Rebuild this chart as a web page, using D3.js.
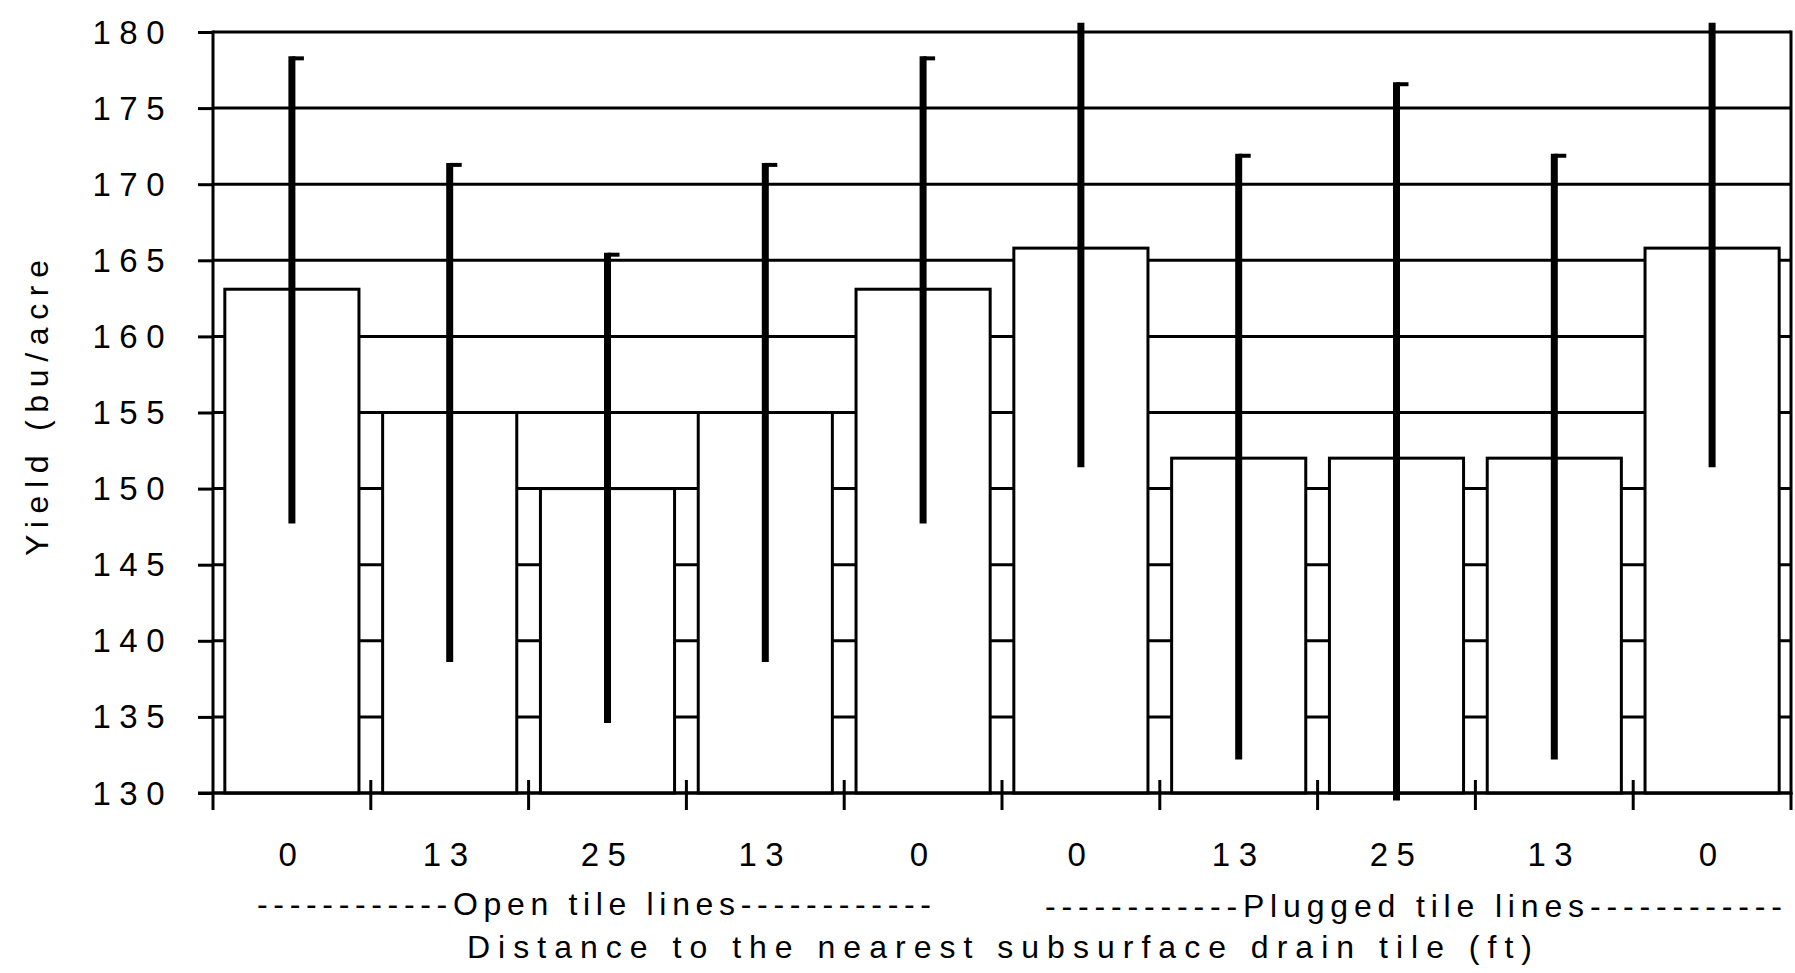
<!DOCTYPE html>
<html>
<head>
<meta charset="utf-8">
<script src="https://cdn.jsdelivr.net/npm/d3@7"></script>
<style>
  body { margin: 0; background: #fff; }
  text { font-family: "Liberation Sans", Arial, sans-serif; fill: #000; }
</style>
</head>
<body>
<svg width="1795" height="973"></svg>
<script>
// values
var distances = ["0", "13", "25", "13", "0", "0", "13", "25", "13", "0"];
var yieldMeans = [163.1, 155, 150, 155, 163.1, 165.8, 152, 152, 152, 165.8];
var errHigh = [178.4, 171.4, 165.5, 171.4, 178.4, 180.6, 172, 176.7, 172, 180.6];
var errLow = [147.7, 138.6, 134.6, 138.6, 147.7, 151.4, 132.2, 129.5, 132.2, 151.4];
var yTicks = [130, 135, 140, 145, 150, 155, 160, 165, 170, 175, 180];
var groupLabels = ["------------Open tile lines------------", "------------Plugged tile lines------------"];
var xTitle = "Distance to the nearest subsurface drain tile (ft)";
var yTitle = "Yield (bu/acre";

var svg = d3.select("svg"),
    plotLeft = 213, plotRight = 1791, plotTop = 32, plotBottom = 793,
    ink = "#000";

var x = d3.scaleBand()
    .domain(d3.range(distances.length))
    .range([plotLeft, plotRight])
    .paddingInner(0.15)
    .paddingOuter(0.075);

var y = d3.scaleLinear()
    .domain([130, 180])
    .range([plotBottom, plotTop]);

// horizontal grid lines (the bars cover them)
svg.append("g")
    .attr("class", "grid")
    .selectAll("line")
    .data(yTicks)
    .enter().append("line")
    .attr("x1", plotLeft)
    .attr("x2", plotRight)
    .attr("y1", function (d) { return y(d); })
    .attr("y2", function (d) { return y(d); })
    .attr("stroke", ink)
    .attr("stroke-width", 3);

// left and right frame
svg.append("g")
    .selectAll("line")
    .data([plotLeft, plotRight])
    .enter().append("line")
    .attr("x1", function (d) { return d; })
    .attr("x2", function (d) { return d; })
    .attr("y1", y(180) - 1.5)
    .attr("y2", y(130) + 1.5)
    .attr("stroke", ink)
    .attr("stroke-width", 3);

// y axis ticks + labels
var yAxis = svg.append("g")
    .attr("transform", "translate(" + plotLeft + ",0)")
    .call(d3.axisLeft(y).tickValues(yTicks).tickSize(15).tickFormat(d3.format("d")));
yAxis.select(".domain").remove();
yAxis.attr("font-family", null).attr("font-size", 33);
yAxis.selectAll("line").attr("stroke", ink).attr("stroke-width", 3);
yAxis.selectAll("text")
    .attr("x", -40)
    .attr("dy", 11)
    .attr("letter-spacing", 8.5)
    .style("fill", ink);

// bars
svg.append("g")
    .attr("class", "bars")
    .selectAll("rect")
    .data(yieldMeans)
    .enter().append("rect")
    .attr("x", function (d, i) { return x(i); })
    .attr("width", x.bandwidth())
    .attr("y", function (d) { return y(d); })
    .attr("height", function (d) { return plotBottom - y(d); })
    .attr("fill", "#fff")
    .attr("stroke", ink)
    .attr("stroke-width", 3);

// x axis line
svg.append("line")
    .attr("x1", plotLeft - 15)
    .attr("x2", plotRight + 1.5)
    .attr("y1", plotBottom)
    .attr("y2", plotBottom)
    .attr("stroke", ink)
    .attr("stroke-width", 3);

// x ticks sit on the category boundaries
svg.append("g")
    .selectAll("line")
    .data(d3.range(distances.length + 1))
    .enter().append("line")
    .attr("x1", function (i) { return plotLeft + i * x.step(); })
    .attr("x2", function (i) { return plotLeft + i * x.step(); })
    .attr("y1", function (i) { return (i === 0 || i === distances.length) ? plotBottom : plotBottom - 13; })
    .attr("y2", plotBottom + 17)
    .attr("stroke", ink)
    .attr("stroke-width", 3);

// error bars
var errs = svg.append("g").attr("class", "errors");
errs.selectAll("line.stem")
    .data(yieldMeans)
    .enter().append("line")
    .attr("class", "stem")
    .attr("x1", function (d, i) { return x(i) + x.bandwidth() / 2; })
    .attr("x2", function (d, i) { return x(i) + x.bandwidth() / 2; })
    .attr("y1", function (d, i) { return y(errHigh[i]); })
    .attr("y2", function (d, i) { return y(errLow[i]); })
    .attr("stroke", ink)
    .attr("stroke-width", 7);

errs.selectAll("line.cap")
    .data(d3.range(distances.length).filter(function (i) { return errHigh[i] < 180; }))
    .enter().append("line")
    .attr("class", "cap")
    .attr("x1", function (i) { return x(i) + x.bandwidth() / 2; })
    .attr("x2", function (i) { return x(i) + x.bandwidth() / 2 + 12; })
    .attr("y1", function (i) { return y(errHigh[i]) + 2; })
    .attr("y2", function (i) { return y(errHigh[i]) + 2; })
    .attr("stroke", ink)
    .attr("stroke-width", 4);

// category labels
svg.append("g")
    .selectAll("text")
    .data(distances)
    .enter().append("text")
    .attr("x", function (d, i) { return x(i) + x.bandwidth() / 2; })
    .attr("y", 866)
    .attr("text-anchor", "middle")
    .attr("font-size", 33)
    .attr("letter-spacing", 8.5)
    .text(function (d) { return d; });

// group labels under the categories
var groupLayout = [{ x: 257, y: 915, len: 674 }, { x: 1045, y: 917, len: 737 }];
svg.append("g")
    .selectAll("text")
    .data(groupLabels)
    .enter().append("text")
    .attr("x", function (d, i) { return groupLayout[i].x; })
    .attr("y", function (d, i) { return groupLayout[i].y; })
    .attr("font-size", 32)
    .attr("textLength", function (d, i) { return groupLayout[i].len; })
    .attr("lengthAdjust", "spacing")
    .text(function (d) { return d; });

svg.append("text")
    .attr("x", 467)
    .attr("y", 958)
    .attr("font-size", 32)
    .attr("textLength", 1065)
    .attr("lengthAdjust", "spacing")
    .text(xTitle);

svg.append("text")
    .attr("transform", "translate(48,408) rotate(-90)")
    .attr("text-anchor", "middle")
    .attr("font-size", 32)
    .attr("textLength", 296)
    .attr("lengthAdjust", "spacing")
    .text(yTitle);
</script>
</body>
</html>
